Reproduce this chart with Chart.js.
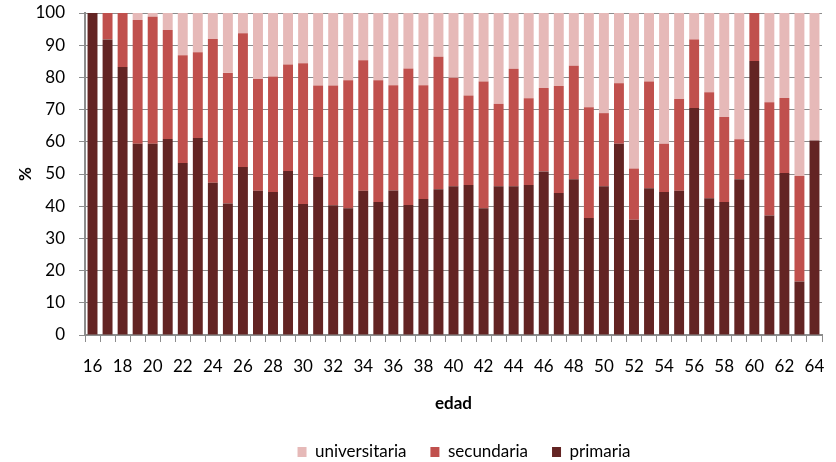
<!DOCTYPE html>
<html>
<head>
<meta charset="utf-8">
<script src="https://cdn.jsdelivr.net/npm/chart.js@4/dist/chart.umd.min.js"></script>
<style>
  html, body { margin: 0; padding: 0; background: #fff; }
  #wrap { width: 836px; height: 462px; }
</style>
</head>
<body>
<div id="wrap"><canvas id="c" width="836" height="462"></canvas></div>
<script>
// Edad (años)
const edades = ['16','17','18','19','20','21','22','23','24','25','26','27','28','29','30','31','32',
  '33','34','35','36','37','38','39','40','41','42','43','44','45','46','47','48','49','50',
  '51','52','53','54','55','56','57','58','59','60','61','62','63','64'];

// Porcentaje por nivel educativo
const primaria = [100, 91.8, 83.2, 59.4, 59.4, 60.9, 53.4, 61.2, 47.3, 40.8, 52.2, 44.8, 44.4, 50.9,
  40.7, 49.1, 40.3, 39.4, 44.8, 41.3, 44.9, 40.4, 42.2, 45.3, 46.2, 46.6, 39.4, 46.2, 46.2, 46.6,
  50.8, 44.1, 48.4, 36.3, 46.2, 59.4, 35.8, 45.6, 44.4, 44.8, 70.5, 42.5, 41.3, 48.4, 85.1, 37.1,
  50.3, 16.6, 60.4];
const secundaria = [0, 8.2, 16.8, 38.4, 39.4, 33.8, 33.5, 26.6, 44.6, 40.6, 41.5, 34.7, 35.9, 33.1,
  43.7, 28.4, 37.2, 39.7, 40.5, 37.8, 32.7, 42.4, 35.4, 41.1, 33.7, 27.8, 39.3, 25.6, 36.5, 26.9,
  25.9, 33.2, 35.2, 34.4, 22.7, 18.8, 15.9, 33.1, 15.0, 28.5, 21.3, 32.9, 26.4, 12.4, 14.9, 35.2,
  23.3, 32.8, 0];
const universitaria = [0, 0, 0, 2.2, 1.2, 5.3, 13.1, 12.2, 8.1, 18.6, 6.3, 20.5, 19.7, 16.0,
  15.6, 22.5, 22.5, 20.9, 14.7, 20.9, 22.4, 17.2, 22.4, 13.6, 20.1, 25.6, 21.3, 28.2, 17.3, 26.5,
  23.3, 22.7, 16.4, 29.3, 31.1, 21.8, 48.3, 21.3, 40.6, 26.7, 8.2, 24.6, 32.3, 39.2, 0, 27.7,
  26.4, 50.6, 39.6];

const yTicks = [0, 10, 20, 30, 40, 50, 60, 70, 80, 90, 100];

const FONT_SIZE = 17;
Chart.defaults.font.family = 'Lato, "Open Sans", sans-serif';
Chart.defaults.font.size = FONT_SIZE;
Chart.defaults.color = '#000';

const GRID = '#8c8c8c';

// Places the legend row centred under the plot, a little lower than the default box
const legendPlace = {
  id: 'legendPlace',
  afterLayout(chart) {
    const lg = chart.legend;
    if (!lg) return;
    const pad = lg.options.labels.padding;
    const item = Math.max(lg.options.labels.boxHeight || FONT_SIZE, FONT_SIZE);
    const dx = 464 - (lg.left + lg.right) / 2;
    const dy = 452 - (lg.top + pad + item / 2);
    lg.left += dx; lg.right += dx;
    lg.top += dy; lg.bottom += dy;
  }
};

new Chart(document.getElementById('c'), {
  type: 'bar',
  data: {
    labels: edades,
    datasets: [
      { label: 'primaria', data: primaria, backgroundColor: '#632423' },
      { label: 'secundaria', data: secundaria, backgroundColor: '#C0504D' },
      { label: 'universitaria', data: universitaria, backgroundColor: '#E6B9B8' }
    ]
  },
  options: {
    responsive: false,
    animation: false,
    layout: { padding: { left: 0, right: 14, top: 13, bottom: 0 } },
    datasets: { bar: { barPercentage: 0.66, categoryPercentage: 1.0, borderWidth: 0 } },
    plugins: {
      legend: {
        position: 'bottom',
        reverse: true,
        labels: { boxWidth: 9, boxHeight: 10, padding: 24, color: '#000', font: { size: FONT_SIZE } }
      },
      tooltip: { enabled: false }
    },
    scales: {
      x: {
        stacked: true,
        grid: { display: true, drawOnChartArea: false, drawTicks: true, tickLength: 7, color: GRID, offset: true },
        border: { display: true, color: GRID, width: 2 },
        ticks: {
          autoSkip: false, maxRotation: 0, minRotation: 0, padding: 14,
          callback: function (v, i) { return i % 2 === 0 ? edades[i] : ''; }
        },
        title: { display: true, text: 'edad', font: { size: FONT_SIZE, weight: 'bold' }, padding: { top: 0, bottom: -3 } },
        afterFit: function (s) { s.height = 76; s.paddingLeft = 0; s.paddingRight = 0; }
      },
      y: {
        stacked: true,
        min: 0, max: 100,
        afterBuildTicks: function (s) { s.ticks = yTicks.map(v => ({ value: v })); },
        grid: { color: GRID, lineWidth: 1, tickLength: 6, drawTicks: true },
        border: { display: true, color: GRID, width: 2 },
        ticks: { padding: 14 },
        title: { display: true, text: '%', font: { size: FONT_SIZE, weight: 'bold' }, padding: { top: 15, bottom: 0 } },
        afterFit: function (s) { s.width = 85; s.paddingTop = 0; s.paddingBottom = 0; }
      }
    }
  },
  plugins: [legendPlace]
});
</script>
</body>
</html>
